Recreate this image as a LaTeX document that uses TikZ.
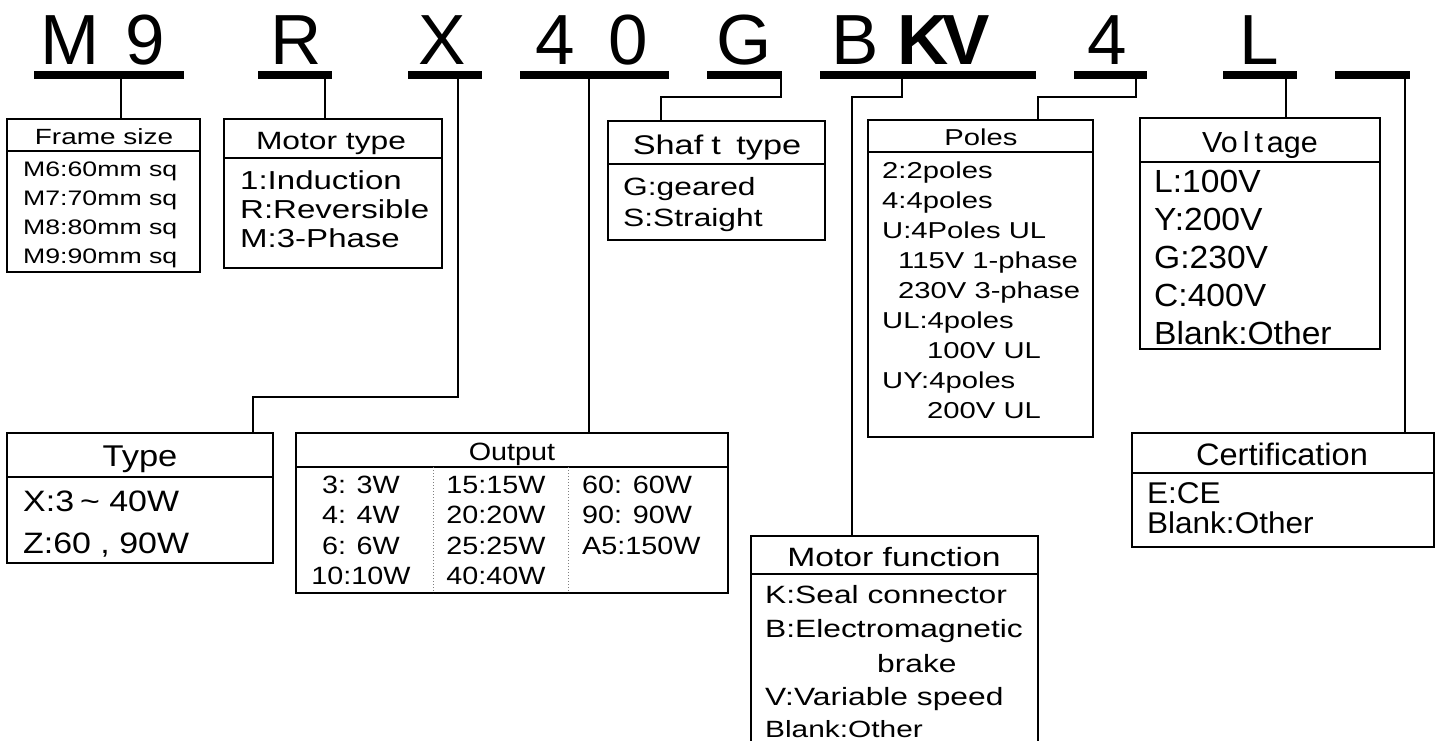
\documentclass[tikz,border=0pt]{standalone}
\usepackage{fontspec}
\setmainfont{Liberation Sans}
\newfontfamily\codefont{Liberation Sans}
\newfontfamily\widefont[FakeStretch=1.27]{Liberation Sans}
\newfontfamily\midfont[FakeStretch=1.15]{Liberation Sans}
\newfontfamily\normfont[FakeStretch=1.05]{Liberation Sans}
\usetikzlibrary{positioning,calc}
\newcommand{\fs}[1]{\fontsize{#1}{#1}\selectfont}
% frame of one spec box: name, left, top, right, bottom, header rule
\newcommand{\specbox}[6]{%
  \node[frm, minimum width={#4-#2}, minimum height={#5-#3}] (#1) at (#2,#3) {};
  \draw[hrule] (#1.west |- 0,#6) -- (#1.east |- 0,#6);}
\tikzset{
  codech/.style={anchor=base, inner sep=0pt, font=\codefont\fs{71}},
  codebold/.style={codech, font=\codefont\bfseries\fs{71}},
  codebar/.style={fill=black, inner sep=0pt, outer sep=0pt, minimum height=8pt},
  lead/.style={line width=1.3pt},
  frm/.style={draw, line width=2pt, inner sep=0pt, outer sep=0pt, anchor=north west},
  hrule/.style={line width=2pt},
  hdr/.style={anchor=base, inner sep=0pt},
  row/.style={anchor=base west, inner sep=0pt},
  coldiv/.style={gray, line width=1pt, dotted},
}
\begin{document}
\begin{tikzpicture}[x=1pt,y=-1pt]
\useasboundingbox (0,0) rectangle (1442,740);
% part number
\node[codech] (cM) at (70,64) {M};
\node[codech] (c9) at (145,64) {9};
\node[codech] (cR) at (296,64) {R};
\node[codech] (cX) at (442,64) {X};
\node[codech] (c4) at (555,64) {4};
\node[codech] (c0) at (628,64) {0};
\node[codech] (cG) at (744,64) {G};
\node[codech] (cB) at (855,64) {B};
\node[codebold] (cK) at (923,64) {K};
\node[codebold] (cV) at (966,64) {V};
\node[codech] (cP) at (1107,64) {4};
\node[codech] (cL) at (1259,64) {L};
\node[codebar, minimum width=150pt] (bM) at (109,75) {};
\node[codebar, minimum width=74pt] (bR) at (295,75) {};
\node[codebar, minimum width=74pt] (bX) at (445,75) {};
\node[codebar, minimum width=149pt] (bP) at (594.5,75) {};
\node[codebar, minimum width=75pt] (bG) at (744.5,75) {};
\node[codebar, minimum width=216pt] (bF) at (928,75) {};
\node[codebar, minimum width=73pt] (bN) at (1110.5,75) {};
\node[codebar, minimum width=74pt] (bV) at (1260,75) {};
\node[codebar, minimum width=75pt] (bC) at (1372.5,75) {};

% boxes
\specbox{frame}{7}{119}{200}{272}{151}
\specbox{mtype}{224}{119}{442}{268}{158}
\specbox{shaft}{608}{121}{825}{240}{164}
\specbox{poles}{868}{120}{1093}{437}{152}
\specbox{volt}{1140}{118}{1380}{349}{162}
\specbox{type}{7}{433}{273}{563}{477}
\specbox{output}{296}{433}{728}{593}{467}
\specbox{mfunc}{751}{536}{1038}{752}{574}
\specbox{cert}{1132}{433}{1434}{547}{473}
\draw[coldiv] (433,467) -- (433,593);
\draw[coldiv] (568,467) -- (568,593);

% headers
\node[hdr, font=\widefont\fs{22}] (frame-h) at (104,144) {Frame size};
\node[hdr, font=\widefont\fs{25}] (mtype-h) at (331,149) {Motor type};
\node[hdr, font=\widefont\fs{27}] (shaft-h) at (717,154) {Shaf\kern8pt t\kern6pt\ type};
\node[hdr, font=\widefont\fs{23}] (poles-h) at (981,145) {Poles};
\node[hdr, font=\normfont\fs{29}] (volt-h) at (1260,152) {Vo\kern5pt l\kern5pt t\kern4pt age};
\node[hdr, font=\midfont\fs{30}] (type-h) at (140,466) {Type};
\node[hdr, font=\midfont\fs{25}] (output-h) at (512,460) {Output};
\node[hdr, font=\widefont\fs{26.5}] (mfunc-h) at (894,566) {Motor function};
\node[hdr, font=\normfont\fs{31}] (cert-h) at (1282,465) {Certification};

% rows
\foreach \t [count=\i] in {M6:60mm sq, M7:70mm sq, M8:80mm sq, M9:90mm sq}
  \node[row, font=\widefont\fs{21}] (frame-\i) at (23,147+29*\i) {\t};
\foreach \t [count=\i] in {1:Induction, R:Reversible, M:3-Phase}
  \node[row, font=\widefont\fs{26}] (mtype-\i) at (240,160+29*\i) {\t};
\foreach \t [count=\i] in {G:geared, S:Straight}
  \node[row, font=\widefont\fs{25}] (shaft-\i) at (623,164+31*\i) {\t};
\foreach \t/\dx [count=\i] in {2:2poles/0, 4:4poles/0, U:4Poles UL/0,
    115V 1-phase/16, 230V 3-phase/16, UL:4poles/0, 100V UL/45,
    UY:4poles/0, 200V UL/45}
  \node[row, font=\widefont\fs{23}] (poles-\i) at (882+\dx,148+30*\i) {\t};
\foreach \t [count=\i] in {L:100V, Y:200V, G:230V, C:400V, Blank:Other}
  \node[row, font=\normfont\fs{32}] (volt-\i) at (1154,154+38*\i) {\t};
\node[row, font=\midfont\fs{29.5}] (type-1) at (23,511) {X:3\kern6pt\textasciitilde\ 40W};
\node[row, font=\midfont\fs{29.5}] (type-2) at (23,553) {Z:60\ ,\ 90W};
\foreach \a/\b/\c [count=\i] in {3: 3W/15:15W/60: 60W, 4: 4W/20:20W/90: 90W,
    6: 6W/25:25W/A5:150W, 10:10W/40:40W/{}}
{
  \node[hdr, font=\midfont\fs{25}] (out-a\i) at (361,462.5+30.5*\i) {\a};
  \node[hdr, font=\midfont\fs{25}] (out-b\i) at (496,462.5+30.5*\i) {\b};
  \node[row, font=\midfont\fs{25}] (out-c\i) at (582,462.5+30.5*\i) {\c};
}
\node[row, font=\widefont\fs{25}] (mfunc-1) at (765,603) {K:Seal connector};
\node[row, font=\widefont\fs{25}] (mfunc-2) at (765,637) {B:Electromagnetic};
\node[row, font=\widefont\fs{25}] (mfunc-3) at (877,672) {brake};
\node[row, font=\widefont\fs{25}] (mfunc-4) at (765,705) {V:Variable speed};
\node[row, font=\widefont\fs{23.5}] (mfunc-5) at (765,737) {Blank:Other};
\foreach \t [count=\i] in {E:CE, Blank:Other}
  \node[row, font=\normfont\fs{30}] (cert-\i) at (1147,473+30*\i) {\t};

% leaders
\draw[lead] (bM.south -| 121,0) -- (frame.north -| 121,0);
\draw[lead] (bR.south -| 325,0) -- (mtype.north -| 325,0);
\draw[lead] (bX.south -| 458,0) -- (458,397) -| (type.north -| 253,0);
\draw[lead] (bP.south -| 589,0) -- (output.north -| 589,0);
\draw[lead] (bG.south -| 781,0) -- (781,97) -| (shaft.north -| 661,0);
\draw[lead] (bF.south -| 902,0) -- (902,97) -| (mfunc.north -| 852,0);
\draw[lead] (bN.south -| 1136,0) -- (1136,97) -| (poles.north -| 1038,0);
\draw[lead] (bV.south -| 1286,0) -- (volt.north -| 1286,0);
\draw[lead] (bC.south -| 1405,0) -- (cert.north -| 1405,0);
\end{tikzpicture}
\end{document}
